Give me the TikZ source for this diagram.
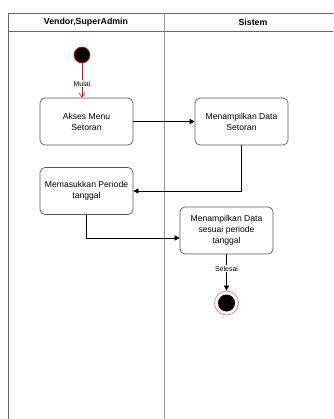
\documentclass[tikz,border=0pt]{standalone}
\usepackage{fontspec}
\setmainfont{Liberation Sans}
\usetikzlibrary{arrows.meta}
\begin{document}
\begin{tikzpicture}[x=1pt,y=-1pt,
  actbox/.style={draw=black!65, line width=0.7pt, rounded corners=5pt, minimum width=93pt, minimum height=47pt, align=center, font=\fontsize{8.6}{11}\selectfont, inner sep=1pt},
  flow/.style={draw=black, line width=0.6pt, -{Triangle[length=5pt,width=5pt]}},
  lbl/.style={font=\fontsize{7}{8}\selectfont, fill=white, inner sep=1pt},
  hdr/.style={font=\bfseries\fontsize{8.8}{10}\selectfont}]
\useasboundingbox (0,0) rectangle (333,419);
% swimlanes
\draw[black!60, line width=0.8pt] (8.5,419) -- (8.5,13) -- (333,13);
\draw[black!60, line width=0.8pt] (8.5,31) -- (333,31);
\draw[black!40, line width=0.9pt] (164,13) -- (164,419);
\node[hdr] (h1) at (86,22) {Vendor,SuperAdmin};
\node[hdr] (h2) at (253,22) {Sistem};
% start
\node[circle, fill=black, draw=red, line width=0.6pt, minimum size=16pt, inner sep=0pt] (start) at (82,55) {};
\node[actbox] (a1) at (86.5,121.5) {Akses Menu\\Setoran};
\node[actbox] (a2) at (241.5,121.5) {Menampilkan Data\\Setoran};
\node[actbox] (a3) at (86.5,191) {Memasukkan Periode\\tanggal};
\node[actbox] (a4) at (226.5,230.5) {Menampilkan Data\\sesuai periode\\tanggal};
% end
\node[circle, draw=red!55, line width=0.7pt, minimum size=24pt, inner sep=0pt] (end) at (226.5,303) {};
\fill[black] (end.center) circle (8.5pt);
% connectors
\draw[red, line width=0.6pt, -{Straight Barb[length=4pt,width=6pt]}] (start) -- node[lbl, text=black, pos=0.6] {Mulai} (start |- a1.north);
\draw[flow] (a1.east) -- (a2.west);
\coordinate (c1) at (241.5,191);
\draw[flow] (a2.south) -- (c1) -- (a3.east);
\coordinate (c2) at (86.5,238);
\draw[flow] (a3.south) -- (c2) -- (c2 -| a4.west);
\draw[flow] (a4.south) -- node[lbl, pos=0.4] {Selesai} (end.north);
\end{tikzpicture}
\end{document}
